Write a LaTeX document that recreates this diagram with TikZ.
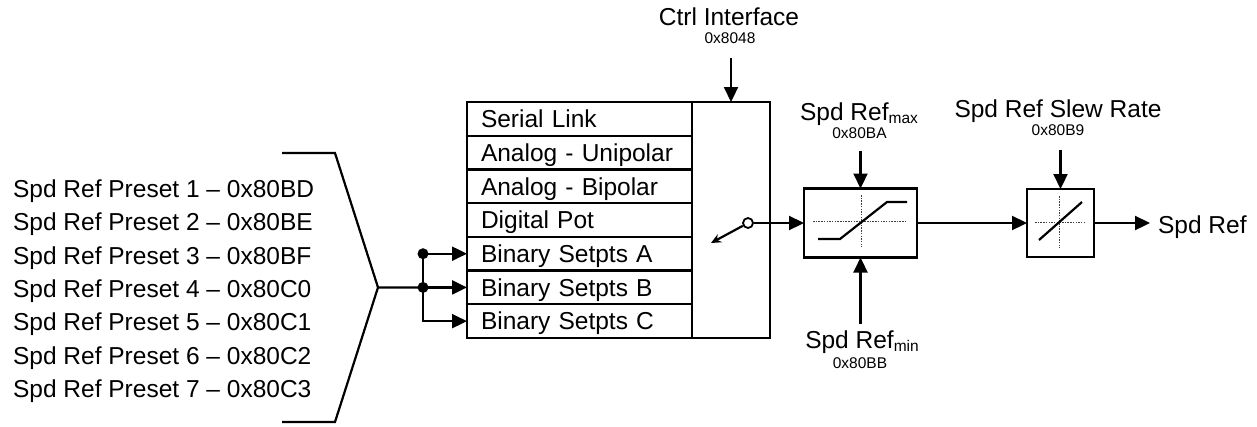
\documentclass[tikz,border=0pt]{standalone}
\usepackage{fontspec}
\setmainfont{Liberation Sans}
\usetikzlibrary{arrows.meta}
% lowered subscript in the small label size
\newcommand\lowsub[1]{\raisebox{-3pt}{\fontsize{15.5}{18}\selectfont #1}}
\begin{document}
\begin{tikzpicture}[x=1pt,y=-1pt,
  line width=2.2pt,
  arr/.style={-{Triangle[length=15pt,width=14pt]}},
  big/.style={font=\fontsize{24.5}{28}\selectfont, inner sep=0pt, anchor=base},
  small/.style={font=\fontsize{15.5}{18}\selectfont, inner sep=0pt, anchor=base},
  row/.style={draw, rectangle, anchor=north west, outer sep=0pt,
    minimum height=33.714pt, text width=197pt, inner xsep=14pt, inner ysep=0pt,
    align=left, text height=17.5pt, text depth=0pt,
    font=\fontsize{24.5}{28}\selectfont},
  blockbox/.style={draw, rectangle, outer sep=0pt, inner sep=0pt},
  guide/.style={line width=0.8pt, dash pattern=on 1.5pt off 1.2pt, black!75},
  dot/.style={fill}
]
\useasboundingbox (0,0) rectangle (1257,426);

% preset list
\foreach \i/\a [count=\k from 0] in {1/BD,2/BE,3/BF,4/C0,5/C1,6/C2,7/C3}
  \node[big, anchor=base west] (p\i) at (12, 197.5+33.33*\k) {Spd Ref Preset \i{} -- 0x80\a};

% bracket gathering the presets
\coordinate (apex) at (378,287.4);
\draw (282,153) -- (335,153) -- (apex) -- (335,422) -- (282,422);

% source selector
\node[row] (r1) at (467,102) {Serial Link};
\node[row] (r2) at (r1.south west) {Analog - Unipolar};
\node[row] (r3) at (r2.south west) {Analog - Bipolar};
\node[row] (r4) at (r3.south west) {Digital Pot};
\node[row] (r5) at (r4.south west) {Binary Setpts A};
\node[row] (r6) at (r5.south west) {Binary Setpts B};
\node[row] (r7) at (r6.south west) {Binary Setpts C};
\node[blockbox, anchor=north west, minimum width=78pt, minimum height=236pt] (sw) at (r1.north east) {};

% fan-out to the binary setpoint inputs
\path (r5.west) ++(-44,0) coordinate (jA);
\path (r6.west) ++(-44,0) coordinate (jB);
\path (r7.west) ++(-44,0) coordinate (jC);
\draw (apex) -- (jB);
\draw[arr] (jA) -- (r5.west);
\draw[arr] (jB) -- (r6.west);
\draw[arr] (jA) -- (jC) -- (r7.west);
\fill[dot] (jA) circle (5.5pt);
\fill[dot] (jB) circle (5.5pt);

% control interface
\node[big] (ctrl) at (729,25) {Ctrl Interface};
\node[small] (ctrladdr) at (730,43) {0x8048};
\coordinate (ctrlin) at (731,58);
\draw[arr] (ctrlin) -- (sw.north);

% switch
\node[circle, draw, fill=white, minimum size=10pt, inner sep=0pt, line width=1.8pt] (swc) at (748,223) {};
\coordinate (swtip) at (711,243);
\draw[-{Stealth[length=10pt,width=9pt]}] (swc) -- (swtip);

% limiter
\node[blockbox, minimum width=113pt, minimum height=69pt] (lim) at (860.5,223) {};
\begin{scope}[shift={(lim.center)}]
  \draw[guide] (-47.5,-2) -- (46.5,-2);
  \draw[guide] (0.5,-28) -- (0.5,24);
  \draw (-42.5,16) -- (-20.5,16) -- (26.5,-21) -- (46.5,-21);
\end{scope}
\draw[arr] (swc.east) -- (lim.west);

\node[big] (maxlbl) at (859,120) {Spd Ref\lowsub{max}};
\node[small] (maxaddr) at (859.5,138) {0x80BA};
\path (lim.north) ++(0,-38) coordinate (maxin);
\draw[arr] (maxin) -- (lim.north);

\node[big] (minlbl) at (862,348) {Spd Ref\lowsub{min}};
\node[small] (minaddr) at (860,368) {0x80BB};
\path (lim.south) ++(0,66) coordinate (minin);
\draw[arr] (minin) -- (lim.south);

% slew-rate limiter
\node[blockbox, minimum width=67pt, minimum height=68pt] (slew) at (1060.5,223) {};
\begin{scope}[shift={(slew.center)}]
  \draw[guide] (-25.5,-1) -- (24.5,-1);
  \draw[guide] (-1.5,-27) -- (-1.5,25);
  \draw (-21.5,17) -- (21.5,-21);
\end{scope}
\draw[arr] (lim.east) -- (slew.west);

\node[big] (slewlbl) at (1058,117) {Spd Ref Slew Rate};
\node[small] (slewaddr) at (1058,135) {0x80B9};
\path (slew.north) ++(0,-39) coordinate (slewin);
\draw[arr] (slewin) -- (slew.north);

% output
\node[big, anchor=base west] (out) at (1157,233) {Spd Ref};
\coordinate (outtip) at (1150,223);
\draw[arr] (slew.east) -- (outtip);
\end{tikzpicture}
\end{document}
